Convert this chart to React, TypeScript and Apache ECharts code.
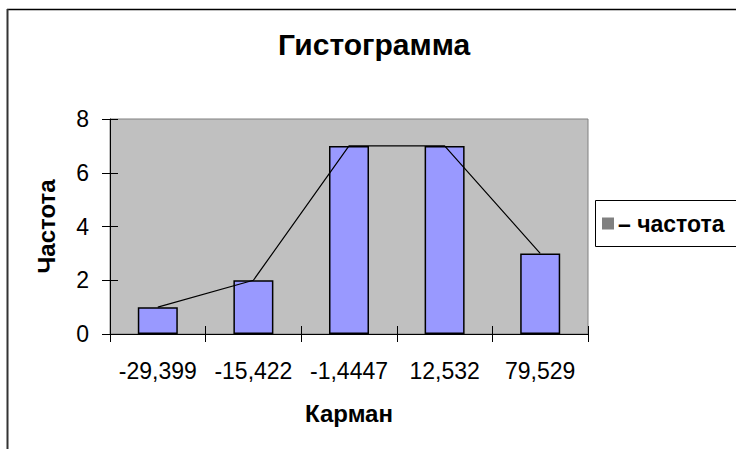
import React, { useEffect, useRef } from "react";
import * as echarts from "echarts";

const categories = ["-29,399", "-15,422", "-1,4447", "12,532", "79,529"];
const frequencies = [1, 2, 7, 7, 3];
const yTicks = { min: 0, max: 8, interval: 2 };
const titleText = "Гистограмма";
const xName = "Карман";
const yName = "Частота";
const seriesName = "частота";

const FONT = "'Liberation Sans', Arial, sans-serif";

export default function App() {
  const ref = useRef<HTMLDivElement>(null);
  useEffect(() => {
    if (!ref.current) return;
    const chart = echarts.init(ref.current, null, { renderer: "svg" });
    chart.setOption({
      animation: false,
      backgroundColor: "#ffffff",
      title: {
        text: titleText,
        left: 278,
        top: 29,
        padding: 0,
        textStyle: { fontFamily: FONT, fontSize: 30, fontWeight: "bold", color: "#000" },
      },
      legend: {
        data: [{ name: seriesName, icon: "rect", itemStyle: { color: "#808080", borderWidth: 0 } }],
        left: 595,
        top: 200,
        orient: "vertical",
        padding: [12, 0, 12, 7],
        itemWidth: 12,
        itemHeight: 12,
        itemGap: 0,
        borderWidth: 0,
        z: 10,
        formatter: (n: string) => "– " + n,
        textStyle: { fontFamily: FONT, fontSize: 23, fontWeight: "bold", color: "#000", padding: [0, 0, 0, -1] },
      },
      grid: {
        left: 110,
        top: 119,
        width: 478,
        height: 215,
        show: true,
        backgroundColor: "#C0C0C0",
        borderColor: "#808080",
        borderWidth: 1,
      },
      xAxis: [
        {
          type: "category",
          data: categories,
          position: "bottom",
          boundaryGap: true,
          axisLine: { show: true, lineStyle: { color: "#000", width: 1 } },
          axisTick: { show: true, inside: false, length: 8, interval: 0, lineStyle: { color: "#000" } },
          axisLabel: { interval: 0, margin: 25, fontFamily: FONT, fontSize: 23, color: "#000" },
          name: xName,
          nameLocation: "middle",
          nameGap: 67,
          nameTextStyle: { fontFamily: FONT, fontSize: 24, fontWeight: "bold", color: "#000" },
          splitLine: { show: false },
        },
        {
          type: "category",
          data: categories,
          position: "bottom",
          offset: 0,
          boundaryGap: true,
          axisLine: { show: false },
          axisTick: { show: true, inside: true, length: 8, interval: 0, lineStyle: { color: "#000" } },
          axisLabel: { show: false },
          splitLine: { show: false },
        },
      ],
      yAxis: [
        {
          type: "value",
          min: yTicks.min,
          max: yTicks.max,
          interval: yTicks.interval,
          position: "left",
          axisLine: { show: true, lineStyle: { color: "#000", width: 1 } },
          axisTick: { show: true, inside: false, length: 8, lineStyle: { color: "#000" } },
          axisLabel: { margin: 21, fontFamily: FONT, fontSize: 23, color: "#000" },
          splitLine: { show: false },
          name: yName,
          nameLocation: "middle",
          nameRotate: 90,
          nameGap: 52,
          nameTextStyle: { fontFamily: FONT, fontSize: 24, fontWeight: "bold", color: "#000" },
        },
        {
          type: "value",
          min: yTicks.min,
          max: yTicks.max,
          interval: yTicks.interval,
          position: "left",
          offset: 0,
          axisLine: { show: false },
          axisTick: { show: true, inside: true, length: 8, lineStyle: { color: "#000" } },
          axisLabel: { show: false },
          splitLine: { show: false },
        },
      ],
      series: [
        {
          name: seriesName,
          type: "bar",
          data: frequencies,
          barWidth: 40,
          itemStyle: { color: "#9999FF", borderColor: "#000", borderWidth: 1.5 },
        },
        {
          name: seriesName + "-line",
          type: "line",
          data: frequencies,
          symbol: "none",
          lineStyle: { color: "#000", width: 1.2 },
          z: 5,
        },
      ],
      graphic: [
        { type: "line", shape: { x1: 7, y1: 9.5, x2: 736, y2: 9.5 }, style: { stroke: "#000", lineWidth: 1.5 } },
        { type: "line", shape: { x1: 7.5, y1: 9, x2: 7.5, y2: 449 }, style: { stroke: "#333", lineWidth: 2 } },
        {
          type: "rect",
          z: 1,
          shape: { x: 595.5, y: 200.5, width: 200, height: 46 },
          style: { fill: "#fff", stroke: "#000", lineWidth: 1 },
        },
      ],
    });
    return () => chart.dispose();
  }, []);
  return (
    <div
      ref={ref}
      style={{ position: "fixed", left: 0, top: 0, width: 736, height: 449 }}
    />
  );
}
